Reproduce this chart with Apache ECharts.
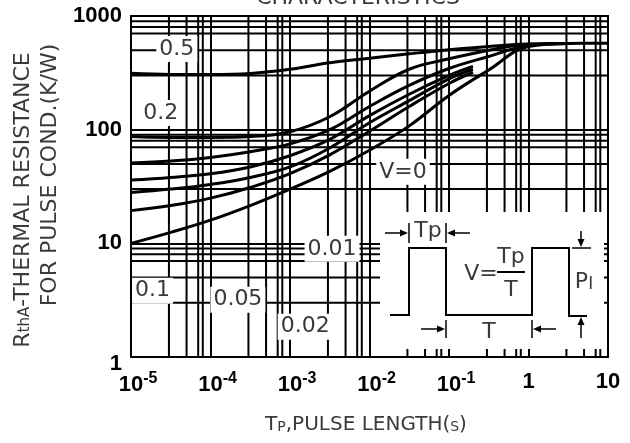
<!DOCTYPE html>
<html><head><meta charset="utf-8">
<script src="https://cdn.jsdelivr.net/npm/echarts@6/dist/echarts.min.js"></script>
<style>html,body{margin:0;padding:0;background:#fff}#c{width:630px;height:443px}</style>
</head><body><div id="c"></div>
<script>
// ---- data ----
const pulseLengths = [1e-5,3.16e-5,1e-4,3.16e-4,1e-3,3.16e-3,1e-2,3.16e-2,0.1,0.316,1,3.16,10];
const stubLengths  = [1e-5,3.16e-5,1e-4,3.16e-4,1e-3,3.16e-3,1e-2,3.16e-2,0.1,0.2];
const dutyNames = ['0.5','0.2','0.1','0.05','0.02','0.01','V=0'];
const rth05  = [313,306,305,312,340,388,425,465,505,540,566,574,575];
const rth02  = [87,85.5,85.5,87,96,130,218,340,420,500,565,574];
const rth01  = [51,53,57,64,75,100,160,245,345,440,550,574];
const rth005 = [36,38,41,47,59,82,133,205,300,360];
const rth002 = [28,30,33,38,47,69,115,180,280,340];
const rth001 = [19.4,21.5,25,31,41,60,97,160,255,320];
const rth0   = [10,12.5,16,21.5,30,43,66,108,200,335,540,574];
const xTickExps = [-5,-4,-3,-2,-1,0,1];
const xTickLabels = ['10{s|-5}','10{s|-4}','10{s|-3}','10{s|-2}','10{s|-1}','1','10'];
const yTickLabels = {1:'{low|1}',10:'10',100:'100',1000:'1000'};
const xMinorMant = [3,5,7,8];
const yMinorMant = [3,5,7,8,9];
// label anchor positions (data coords)
const labelPos = {
  '0.5':[3.77e-5,512], '0.2':[2.37e-5,140], '0.1':[1.87e-5,3.83],
  '0.05':[2.21e-4,3.19], '0.02':[1.55e-3,1.85], '0.01':[3.38e-3,8.95], 'V=0':[2.64e-2,42.6]
};

const curves = [rth05, rth02, rth01, rth005, rth002, rth001, rth0];
const curveX = [pulseLengths, pulseLengths, pulseLengths, stubLengths, stubLengths, stubLengths, pulseLengths];
const txtFont = '"DejaVu Sans", "Noto Sans", sans-serif';
const numFont = '"Liberation Sans Narrow", "Liberation Sans", Arial, sans-serif';
const grayTxt = '#3a3a3a';

const gridLines = [];
for (let d = -5; d <= 0; d++) xMinorMant.forEach(m => gridLines.push([m * Math.pow(10, d), 10, 0]));
for (let d = 0; d <= 2; d++) yMinorMant.forEach(m => gridLines.push([1e-4, m * Math.pow(10, d), 1]));

const series = [{
  type: 'custom', z: 1, silent: true, coordinateSystem: 'cartesian2d', clip: false,
  data: gridLines,
  renderItem: (params, api) => {
    const v0 = api.value(0), v1 = api.value(1), dir = api.value(2);
    let p1, p2;
    if (dir === 0) { p1 = api.coord([v0, 1]); p2 = api.coord([v0, 1000]); }
    else { p1 = api.coord([1e-5, v1]); p2 = api.coord([10, v1]); }
    return {type: 'line', shape: {x1: p1[0], y1: p1[1], x2: p2[0], y2: p2[1]}, style: {stroke: '#000', lineWidth: 2}};
  }
}];
curves.forEach((arr, i) => series.push({
  name: dutyNames[i], type: 'line', z: 3,
  data: arr.map((v, k) => [curveX[i][k], v]),
  smooth: 0.4, symbol: 'none',
  lineStyle: {color: '#000', width: 3}, silent: true
}));
series.push({
  type: 'line', z: 5, data: [], silent: true, symbol: 'none',
  markPoint: {silent: true, animation: false, symbol: 'circle', symbolSize: 1,
    itemStyle: {color: 'rgba(0,0,0,0)'},
    label: {show: true, position: 'inside', color: grayTxt, fontSize: 22, fontFamily: txtFont,
      backgroundColor: '#fff', padding: [2, 3]},
    data: dutyNames.map(n => ({coord: labelPos[n], label: {formatter: n}}))}
});

const chart = echarts.init(document.getElementById('c'), null, {renderer: 'canvas'});

function arrow(x1, y1, x2, y2) {
  const dx = x2 - x1, dy = y2 - y1, L = Math.hypot(dx, dy), ux = dx / L, uy = dy / L;
  const hl = 8, hw = 3.5;
  const bx = x2 - ux * hl, by = y2 - uy * hl;
  return [
    {type: 'line', z: 11, shape: {x1, y1, x2: bx, y2: by}, style: {stroke: '#000', lineWidth: 1.5}},
    {type: 'polygon', z: 11, shape: {points: [[x2, y2], [bx - uy * hw, by + ux * hw], [bx + uy * hw, by - ux * hw]]}, style: {fill: '#000'}}
  ];
}
function seg(x1, y1, x2, y2, w) {
  return {type: 'line', z: 11, shape: {x1, y1, x2, y2}, style: {stroke: '#000', lineWidth: w || 1.5}};
}
function txt(x, y, text, size, extra) {
  return Object.assign({type: 'text', z: 11, x, y, style: {text, fill: grayTxt, font: size + 'px ' + txtFont, align: 'center', verticalAlign: 'middle'}}, extra || {});
}

const inset = [
  {type: 'rect', z: 10, shape: {x: 380, y: 212, width: 224, height: 137}, style: {fill: '#fff'}},
  {type: 'polyline', z: 11, shape: {points: [[390,315],[409,315],[409,248],[446,248],[446,315],[532,315],[532,248],[569,248],[569,316],[587,316]]}, style: {stroke: '#000', lineWidth: 2, fill: null}},
  ...arrow(385, 233, 408, 233), seg(409, 223, 409, 243), txt(428, 231, 'Tp', 22), seg(446, 223, 446, 243), ...arrow(470, 233, 447, 233),
  ...arrow(421, 329, 445, 329), seg(446, 320, 446, 338), txt(489, 332, 'T', 22), seg(532, 320, 532, 338), ...arrow(556, 329, 533, 329),
  txt(481, 274, 'V=', 22), txt(511, 257, 'Tp', 22), seg(497, 272, 525, 272, 2), txt(511, 290, 'T', 22),
  {type: 'text', z: 11, x: 584, y: 282, style: {text: '{p|P}{i|I}', align: 'center', verticalAlign: 'middle', fill: grayTxt,
    rich: {p: {fontSize: 22, fontFamily: txtFont, fill: grayTxt}, i: {fontSize: 17, fontFamily: txtFont, fill: grayTxt, padding: [5, 0, 0, 0]}}}},
  ...arrow(581, 231, 581, 247), seg(572, 248, 591, 248),
  ...arrow(581, 338, 581, 317)
];

const titles = [
  {type: 'text', z: 11, x: 358, y: 9, style: {text: 'CHARACTERISTICS', fill: grayTxt, font: '22px ' + txtFont, align: 'center', verticalAlign: 'bottom'}},
  {type: 'text', z: 11, x: 366, y: 425, style: {text: 'T{sm|P},PULSE LENGTH({sm|S})', fill: grayTxt, font: '20px ' + txtFont, align: 'center', verticalAlign: 'middle',
    rich: {sm: {fontSize: 14, fontFamily: txtFont, fill: grayTxt, padding: [4, 0, 0, 0]}}}},
  {type: 'text', z: 11, x: 23, y: 200, rotation: Math.PI / 2, style: {text: 'R{sm|thA}-THERMAL RESISTANCE', fill: grayTxt, font: '22px ' + txtFont, align: 'center', verticalAlign: 'middle',
    rich: {sm: {fontSize: 15, fontFamily: txtFont, fill: grayTxt, padding: [4, 0, 0, 0]}}}},
  {type: 'text', z: 11, x: 50, y: 175, rotation: Math.PI / 2, style: {text: 'FOR PULSE COND.(K/W)', fill: grayTxt, font: '22px ' + txtFont, align: 'center', verticalAlign: 'middle'}}
];

chart.setOption({
  animation: false,
  backgroundColor: '#fff',
  grid: {left: 131, right: 22, top: 16, bottom: 86, show: true, borderColor: '#000', borderWidth: 2, containLabel: false, outerBoundsMode: 'none'},
  xAxis: {type: 'log', logBase: 10, min: 1e-5, max: 10, splitNumber: 6,
    axisLine: {lineStyle: {color: '#000', width: 2}}, axisTick: {show: false},
    splitLine: {show: true, lineStyle: {color: '#000', width: 2}},
    axisLabel: {margin: 14, color: '#000', fontFamily: numFont, fontSize: 22, fontWeight: 'bold',
      formatter: v => { const e = Math.round(Math.log10(v)); const i = xTickExps.indexOf(e); if (i < 0) return '';
        const lab = xTickLabels[i]; const m = lab.match(/\{s\|([^}]*)\}/); return m ? '{sp|' + m[1] + '}' + lab : lab; },
      rich: {s: {fontSize: 16, fontFamily: numFont, fontWeight: 'bold', color: '#000', verticalAlign: 'top', padding: [0, 0, 12, 0]},
             sp: {fontSize: 16, fontFamily: numFont, fontWeight: 'bold', color: 'rgba(0,0,0,0)', padding: [0, 0, 12, 0]}}}},
  yAxis: {type: 'log', logBase: 10, min: 1, max: 1000, splitNumber: 3,
    axisLine: {lineStyle: {color: '#000', width: 2}}, axisTick: {show: false},
    splitLine: {show: true, lineStyle: {color: '#000', width: 2}},
    axisLabel: {margin: 9, color: '#000', fontFamily: numFont, fontSize: 22, fontWeight: 'bold',
      formatter: v => yTickLabels[Math.round(v)] || '',
      rich: {low: {fontFamily: numFont, fontSize: 22, fontWeight: 'bold', color: '#000', padding: [14, 0, 0, 0]}}}},
  series: series,
  graphic: inset.concat(titles)
});
</script></body></html>
